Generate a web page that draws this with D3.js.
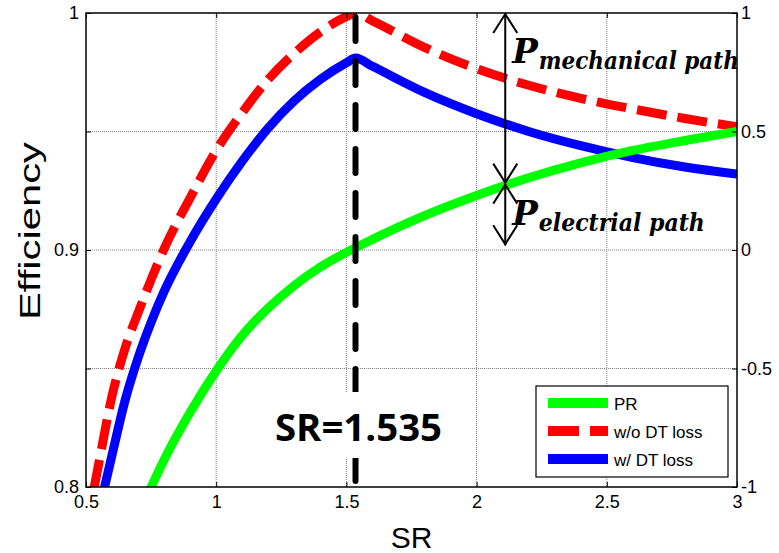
<!DOCTYPE html>
<html>
<head>
<meta charset="utf-8">
<script src="https://d3js.org/d3.v7.min.js"></script>
<style>
  body { margin: 0; background: #fff; }
  svg { display: block; font-family: Arial, "Liberation Sans", sans-serif; }
</style>
</head>
<body>
<div id="chart"></div>
<script>
var WIDTH = 779, HEIGHT = 553;
var margin = {top: 13, right: 42, bottom: 66, left: 86};
var innerW = WIDTH - margin.left - margin.right;   // 651
var innerH = HEIGHT - margin.top - margin.bottom;  // 474

// PR curve
var srPR  = [0.74, 0.8, 0.9, 1.0, 1.1, 1.2, 1.3, 1.4, 1.5, 1.6, 1.8, 2.0, 2.2, 2.4, 2.6, 2.8, 3.0];
var effPR = [0.7975, 0.8115, 0.8315, 0.849, 0.864, 0.8755, 0.885, 0.8928, 0.899, 0.9045, 0.9145, 0.923, 0.9305, 0.9368, 0.942, 0.9462, 0.950];

// w/o DT loss curve
var srNoDT  = [0.53, 0.55, 0.6, 0.65, 0.7, 0.75, 0.8, 0.9, 1.0, 1.1, 1.2, 1.3, 1.4, 1.5, 1.535, 1.6, 1.8, 2.0, 2.2, 2.4, 2.6, 2.8, 3.0];
var effNoDT = [0.799, 0.8105, 0.8385, 0.8585, 0.8735, 0.8875, 0.9005, 0.922, 0.942, 0.958, 0.972, 0.983, 0.992, 0.9985, 1.0, 0.9967, 0.9855, 0.9765, 0.9695, 0.964, 0.9595, 0.9555, 0.952];

// w/ DT loss curve
var srDT  = [0.565, 0.6, 0.65, 0.7, 0.75, 0.8, 0.9, 1.0, 1.1, 1.2, 1.3, 1.4, 1.5, 1.535, 1.6, 1.8, 2.0, 2.2, 2.4, 2.6, 2.8, 3.0];
var effDT = [0.797, 0.8135, 0.8365, 0.8545, 0.8695, 0.8825, 0.9035, 0.9215, 0.9375, 0.9515, 0.963, 0.972, 0.979, 0.981, 0.9775, 0.9665, 0.9575, 0.950, 0.944, 0.939, 0.935, 0.932];

// ticks
var xTicks = [0.5, 1, 1.5, 2, 2.5, 3];
var yLeftTicks = [0.8, 0.85, 0.9, 0.95, 1];
var yLeftLabels = {0.8: '0.8', 0.9: '0.9', 1: '1'};
var yRightTicks = [-1, -0.5, 0, 0.5, 1];

// annotations
var peakSR = 1.535;
var arrowSR = 2.11;
var arrowTop = 1.0, arrowMid = 0.928, arrowBottom = 0.902;

var svg = d3.select('#chart')
    .append('svg')
    .attr('width', WIDTH)
    .attr('height', HEIGHT);

var x = d3.scaleLinear().domain([0.5, 3]).range([0, innerW]);
var y = d3.scaleLinear().domain([0.8, 1]).range([innerH, 0]);
var yR = d3.scaleLinear().domain([-1, 1]).range([innerH, 0]);

var g = svg.append('g').attr('transform', `translate(${margin.left},${margin.top})`);

svg.append('defs').append('clipPath').attr('id', 'plotClip')
    .append('rect').attr('width', innerW).attr('height', innerH);

//grid lines (dotted grey)
var grid = g.append('g').attr('class', 'grid');
grid.selectAll('line.vx')
    .data(xTicks.slice(1, -1))
    .enter().append('line')
    .attr('x1', d => x(d)).attr('x2', d => x(d))
    .attr('y1', 0).attr('y2', innerH);
grid.selectAll('line.hy')
    .data(yLeftTicks.slice(1, -1))
    .enter().append('line')
    .attr('x1', 0).attr('x2', innerW)
    .attr('y1', d => y(d)).attr('y2', d => y(d));
grid.selectAll('line')
    .attr('stroke', '#808080')
    .attr('stroke-width', 1)
    .attr('stroke-dasharray', '1,1');

//curves
var line = d3.line()
    .x(d => x(d[0]))
    .y(d => y(d[1]))
    .curve(d3.curveMonotoneX);

var curves = g.append('g').attr('clip-path', 'url(#plotClip)');

curves.append('path')
    .datum(srNoDT.map((s, i) => [s, effNoDT[i]]))
    .attr('d', line)
    .attr('fill', 'none')
    .attr('stroke', '#ff0000')
    .attr('stroke-width', 9)
    .attr('stroke-dasharray', '30,11');

curves.append('path')
    .datum(srDT.map((s, i) => [s, effDT[i]]))
    .attr('d', line)
    .attr('fill', 'none')
    .attr('stroke', '#0000ff')
    .attr('stroke-width', 9);

curves.append('path')
    .datum(srPR.map((s, i) => [s, effPR[i]]))
    .attr('d', line)
    .attr('fill', 'none')
    .attr('stroke', '#00ff00')
    .attr('stroke-width', 9);

//vertical dashed line at the peak
g.append('line')
    .attr('x1', x(peakSR)).attr('x2', x(peakSR))
    .attr('y1', y(1) + 4).attr('y2', y(0.8) - 4)
    .attr('stroke', '#000')
    .attr('stroke-width', 6)
    .attr('stroke-linecap', 'round')
    .attr('stroke-dasharray', '24,20');

//white box with the SR label
var srLabel = g.append('g');
srLabel.append('rect')
    .attr('x', x(peakSR) - 86).attr('y', y(0.8) - 95)
    .attr('width', 178).attr('height', 66)
    .attr('fill', '#fff');
srLabel.append('text')
    .attr('x', x(peakSR) + 3).attr('y', y(0.8) - 46)
    .attr('text-anchor', 'middle')
    .style('font-family', '"Open Sans", sans-serif')
    .style('font-weight', 'bold')
    .style('font-size', '38px')
    .attr('textLength', 167)
    .attr('lengthAdjust', 'spacingAndGlyphs')
    .text('SR=1.535');

//axes: box + inward ticks
var axisStyle = function(sel) {
    sel.select('.domain').remove();
    sel.selectAll('line').attr('stroke', '#000');
    sel.selectAll('text').attr('fill', '#000').style('font-size', '18px').style('font-family', 'Arial, "Liberation Sans", sans-serif');
};

g.append('g')
    .attr('transform', `translate(0,${innerH})`)
    .call(d3.axisBottom(x).tickValues(xTicks).tickSize(-5).tickPadding(8).tickFormat(d3.format('')))
    .call(axisStyle);
g.append('g')
    .call(d3.axisTop(x).tickValues(xTicks).tickSize(-5).tickFormat(''))
    .call(axisStyle);
g.append('g')
    .call(d3.axisLeft(y).tickValues(yLeftTicks).tickSize(-5).tickPadding(7)
        .tickFormat(d => yLeftLabels[d] || ''))
    .call(axisStyle);
g.append('g')
    .attr('transform', `translate(${innerW},0)`)
    .call(d3.axisRight(yR).tickValues(yRightTicks).tickSize(-5).tickPadding(4)
        .tickFormat(d => d === 0 ? '0' : String(d)))
    .call(axisStyle);

g.append('rect')
    .attr('width', innerW).attr('height', innerH)
    .attr('fill', 'none')
    .attr('stroke', '#000')
    .attr('stroke-width', 1.5);

//axis titles
svg.append('text')
    .attr('x', margin.left + x(1.75))
    .attr('y', 548)
    .attr('text-anchor', 'middle')
    .style('font-size', '30px')
    .text('SR');
svg.append('text')
    .attr('transform', 'translate(40,231) rotate(-90)')
    .attr('text-anchor', 'middle')
    .style('font-size', '30px')
    .attr('textLength', 178)
    .attr('lengthAdjust', 'spacingAndGlyphs')
    .text('Efficiency');

//power path arrows
var ax = x(arrowSR);
var arrows = g.append('g').attr('stroke', '#000').attr('fill', 'none').attr('stroke-width', 2);
arrows.append('line').attr('x1', ax).attr('x2', ax).attr('y1', y(arrowTop)).attr('y2', y(arrowBottom));
var head = function(yy, dir) {
    arrows.append('path')
        .attr('d', `M${ax - 12},${yy + dir * 19}L${ax},${yy}L${ax + 12},${yy + dir * 19}`);
};
head(y(arrowTop) + 1, 1);
head(y(arrowMid) - 1, -1);
head(y(arrowMid) + 1, 1);
head(y(arrowBottom) - 1, -1);

var pathLabel = function(yBase, sub, subLen) {
    var t = g.append('text')
        .attr('x', ax + 7)
        .attr('y', yBase)
        .style('font-family', '"DejaVu Serif", serif')
        .style('font-style', 'italic')
        .style('font-weight', 'bold')
        .attr('fill', '#000');
    t.append('tspan').style('font-size', '34px').text('P');
    t.append('tspan')
        .attr('dy', 6)
        .attr('dx', 1)
        .style('font-size', '24px')
        .attr('textLength', subLen)
        .attr('lengthAdjust', 'spacingAndGlyphs')
        .text(sub);
};
pathLabel(y(0.979), 'mechanical path', 200);
pathLabel(y(0.9105), 'electrial path', 166);

//legend
var legendItems = [
    {label: 'PR', color: '#00ff00', dash: null},
    {label: 'w/o DT loss', color: '#ff0000', dash: '31,11'},
    {label: 'w/ DT loss', color: '#0000ff', dash: null}
];
var legend = svg.append('g').attr('transform', 'translate(536,386)');
legend.append('rect')
    .attr('width', 192).attr('height', 91)
    .attr('fill', '#fff')
    .attr('stroke', '#000')
    .attr('stroke-width', 1.2);
var item = legend.selectAll('g.item')
    .data(legendItems)
    .enter().append('g')
    .attr('transform', (d, i) => `translate(0,${17 + i * 28})`);
item.append('line')
    .attr('x1', 12).attr('x2', 72)
    .attr('stroke', d => d.color)
    .attr('stroke-width', 10)
    .attr('stroke-dasharray', d => d.dash);
item.append('text')
    .attr('x', 78).attr('y', 7)
    .style('font-size', '17px')
    .text(d => d.label);
</script>
</body>
</html>
